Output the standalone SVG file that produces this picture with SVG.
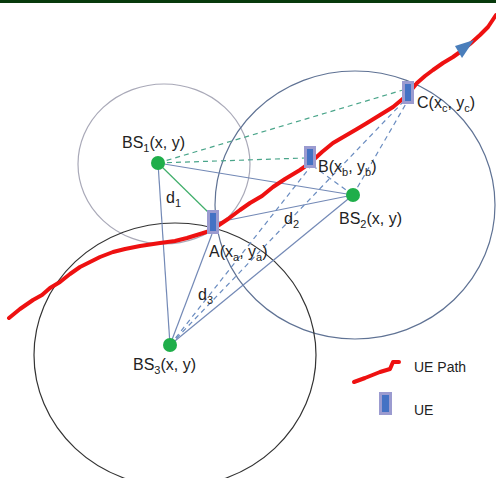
<svg xmlns="http://www.w3.org/2000/svg" width="496" height="478" viewBox="0 0 496 478">
<style>
.lbl{font-family:"Liberation Sans",Arial,sans-serif;font-size:16px;fill:#222}
.leg{font-family:"Liberation Sans",Arial,sans-serif;font-size:14px;fill:#222}
.solid{stroke:#7389b6;stroke-width:1.2;fill:none}
.green{stroke:#3fae6a;stroke-width:1.2;fill:none}
.gdash{stroke:#4aa58a;stroke-width:1.2;stroke-dasharray:5,4;fill:none}
.bdash{stroke:#6a8cc0;stroke-width:1.2;stroke-dasharray:5,4;fill:none}
.bs{fill:#1fae4a}
.ueo{fill:#9b9bd0}
.uei{fill:#4472c4}
.path{stroke:#ee1111;stroke-width:4;fill:none;stroke-linejoin:round;stroke-linecap:round}
</style>
<rect x="0" y="0" width="496" height="478" fill="#ffffff"/>
<rect x="0" y="0" width="496" height="3" fill="#073a0c"/>
<g id="coverage">
<ellipse cx="164" cy="164" rx="86" ry="80" fill="none" stroke="#a9a9b8" stroke-width="1.2"/>
<ellipse cx="355" cy="205" rx="140" ry="134" fill="none" stroke="#5f7294" stroke-width="1.2"/>
<ellipse cx="175" cy="355" rx="141" ry="132" fill="none" stroke="#333333" stroke-width="1.2"/>
</g>
<g id="connectors">
<line class="solid" x1="158" y1="163" x2="353" y2="195"/>
<line class="solid" x1="158" y1="163" x2="170" y2="345"/>
<line class="solid" x1="170" y1="345" x2="353" y2="195"/>
<line class="green" x1="158" y1="163" x2="210" y2="214"/>
<line class="gdash" x1="158" y1="163" x2="305" y2="158"/>
<line class="gdash" x1="158" y1="163" x2="403" y2="90"/>
<line class="solid" x1="353" y1="195" x2="219" y2="222"/>
<line class="bdash" x1="353" y1="195" x2="313" y2="166"/>
<line class="bdash" x1="353" y1="195" x2="407" y2="102"/>
<line class="solid" x1="170" y1="345" x2="212" y2="234"/>
<line class="bdash" x1="170" y1="345" x2="311" y2="166"/>
<line class="bdash" x1="170" y1="345" x2="404" y2="101"/>
</g>
<g id="ue-path">
<path class="path" d="M9,318 L20,309 L33,300 L42,295 L50,288 L60,282 L70,274 L80,267 L90,262 L100,257 L113,252 L125,249 L140,246 L160,243 L175,241 L187,238 L200,234 L213,230 L219,225 L228,219 L240,210 L250,203 L262,196 L273,187 L285,179 L300,170 L310,163 L322,152 L333,143 L345,136 L357,129 L367,123 L380,115 L393,107 L405,97 L413,88 L417,83 L425,76 L433,70 L443,63 L453,57 L460,52 L470,44 L480,35 L488,27 L496,15"/>
<polygon points="474,40 455,46 462,58" fill="#4a7ebb"/>
</g>
<g id="BS1"><circle class="bs" cx="158" cy="163" r="7"/><text class="lbl" x="122" y="148">BS<tspan font-size="11" dy="4">1</tspan><tspan dy="-4">(x, y)</tspan></text></g>
<g id="BS2"><circle class="bs" cx="353" cy="195" r="7"/><text class="lbl" x="339" y="224">BS<tspan font-size="11" dy="4">2</tspan><tspan dy="-4">(x, y)</tspan></text></g>
<g id="BS3"><circle class="bs" cx="170" cy="345" r="7"/><text class="lbl" x="133" y="370">BS<tspan font-size="11" dy="4">3</tspan><tspan dy="-4">(x, y)</tspan></text></g>
<g id="UE-A"><rect class="ueo" x="207" y="210" width="12" height="24"/><rect class="uei" x="210" y="213" width="6" height="18"/><text class="lbl" x="209" y="257">A(x<tspan font-size="11" dy="4">a</tspan><tspan dy="-4">, y</tspan><tspan font-size="11" dy="4">a</tspan><tspan dy="-4">)</tspan></text></g>
<g id="UE-B"><rect class="ueo" x="304" y="146" width="12" height="22"/><rect class="uei" x="307" y="149" width="6" height="16"/><text class="lbl" x="318" y="172">B(x<tspan font-size="11" dy="4">b</tspan><tspan dy="-4">, y</tspan><tspan font-size="11" dy="4">b</tspan><tspan dy="-4">)</tspan></text></g>
<g id="UE-C"><rect class="ueo" x="402" y="81" width="12" height="23"/><rect class="uei" x="405" y="84" width="6" height="17"/><text class="lbl" x="417" y="108">C(x<tspan font-size="11" dy="4">c</tspan><tspan dy="-4">, y</tspan><tspan font-size="11" dy="4">c</tspan><tspan dy="-4">)</tspan></text></g>
<g id="distances">
<text class="lbl" x="166" y="203">d<tspan font-size="11" dy="4">1</tspan></text>
<text class="lbl" x="284" y="224">d<tspan font-size="11" dy="4">2</tspan></text>
<text class="lbl" x="198" y="300">d<tspan font-size="11" dy="4">3</tspan></text>
</g>
<g id="legend">
<path class="path" d="M354,382 L365,378 L380,372 L390,369 L393,362 L399,362"/>
<text class="leg" x="414" y="372">UE Path</text>
<rect class="ueo" x="379" y="392" width="13" height="23"/><rect class="uei" x="382" y="395" width="7" height="17"/>
<text class="leg" x="414" y="415">UE</text>
</g>
</svg>
